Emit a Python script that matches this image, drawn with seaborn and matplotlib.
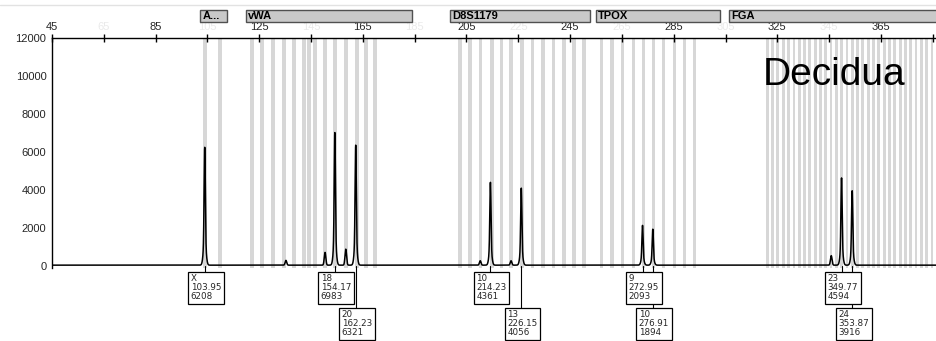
import numpy as np
import pandas as pd
import seaborn as sns
import matplotlib.pyplot as plt
from matplotlib.patches import Rectangle
from matplotlib.lines import Line2D
from matplotlib.transforms import blended_transform_factory

# locus panels above the trace (bp)
locus_names = ["A...", "vWA", "D8S1179", "TPOX", "FGA"]
locus_start = [102.1, 119.9, 198.7, 255.0, 306.3]
locus_end = [112.6, 184.0, 252.7, 302.9, 400.0]

# allele bins (grey stripes, bp)
bins_amel = [104.1, 109.9]
bins_vwa = [122.2, 126.1, 130.3, 134.6, 138.4, 142.3, 144.2, 146.5, 150.4,
            154.3, 158.5, 162.8, 166.2, 169.7]
bins_d8 = [202.5, 206.4, 210.5, 214.8, 218.6, 222.2, 226.4, 230.6, 234.5,
           238.6, 242.7, 246.5, 250.4]
bins_tpox = [257.2, 261.1, 265.3, 269.4, 273.3, 277.2, 281.0, 285.3, 289.1, 292.9]
bins_fga = [321.1, 323.2, 325.2, 327.3, 329.3, 331.4, 333.4, 335.5, 337.5,
            339.6, 341.6, 343.7, 345.7, 347.8, 349.8, 351.9, 353.9, 356.0,
            358.0, 360.1, 362.1, 364.2, 366.2, 368.3, 370.3, 372.4, 374.4,
            376.5, 378.5, 380.6, 382.6, 384.7, 386.7]

# called peaks
allele_labels = ["X", "18", "20", "10", "13", "9", "10", "23", "24"]
allele_sizes = [103.95, 154.17, 162.23, 214.23, 226.15, 272.95, 276.91, 349.77, 353.87]
allele_heights = [6208, 6983, 6321, 4361, 4056, 2093, 1894, 4594, 3916]

# small uncalled peaks (stutter etc.)
minor_sizes = [135.3, 150.4, 158.4, 210.3, 222.2, 345.8]
minor_heights = [250, 670, 840, 230, 230, 500]

sns.set_style("white")
plt.rcParams['font.family'] = ['Liberation Sans', 'DejaVu Sans']

fig = plt.figure(figsize=(9.37, 3.41), dpi=100)
ax = fig.add_axes([52 / 937, 1 - 268 / 341, 1 - 52 / 937, 230 / 341])
xmax = 45 + (937 - 52) / 2.5906
ax.set_xlim(45, xmax)
ax.set_ylim(-105, 12000)

# grey bin stripes
for b in bins_amel + bins_vwa + bins_d8 + bins_tpox:
    ax.axvspan(b - 0.65, b + 0.65, color='#d7d7d7', lw=0, zorder=0)
for b in bins_fga:
    ax.axvspan(b - 0.55, b + 0.55, color='#d7d7d7', lw=0, zorder=0)

# electropherogram trace
xs = np.arange(45, xmax, 0.02)
ys = np.full_like(xs, 45.0)
for p, h in zip(allele_sizes, allele_heights):
    ys += 0.78 * h * np.exp(-0.5 * ((xs - p) / 0.22) ** 2)
    ys += 0.22 * h * np.exp(-0.5 * ((xs - p) / 0.5) ** 2)
for p, h in zip(minor_sizes, minor_heights):
    ys += h * np.exp(-0.5 * ((xs - p) / 0.3) ** 2)
trace = pd.DataFrame({'size': xs, 'rfu': ys})
sns.lineplot(data=trace, x='size', y='rfu', ax=ax, color='black', lw=1.1,
             estimator=None, zorder=3)
ax.set_xlabel('')
ax.set_ylabel('')

# axes style
ax.xaxis.tick_top()
for s in ['bottom', 'right']:
    ax.spines[s].set_visible(False)
for s in ['top', 'left']:
    ax.spines[s].set_color('black')
    ax.spines[s].set_linewidth(1.0)
ax.set_xticks(np.arange(45, 386, 40))
minor_x = np.arange(65, 386, 40)
ax.set_xticks(minor_x, labels=[str(v) if v < 380 else '' for v in minor_x], minor=True)
ax.set_yticks(np.arange(0, 12001, 2000))
ax.set_yticks(np.arange(1000, 12000, 2000), minor=True)
ax.tick_params(axis='both', which='both', direction='inout', length=6, width=1,
               color='black', labelsize=8, pad=1)
ax.tick_params(axis='x', which='minor', labelcolor='#eaeaea', labeltop=True)
ax.tick_params(axis='y', which='minor', labelleft=False)

# locus panels
tr = blended_transform_factory(ax.transData, ax.transAxes)
for name, a, b in zip(locus_names, locus_start, locus_end):
    ax.add_patch(Rectangle((a, 1.0696), b - a, 0.052, transform=tr, clip_on=False,
                           facecolor='#c9c9c9', edgecolor='#505050', lw=1))
    ax.text(a + 0.9, 1.0956, name, transform=tr, ha='left', va='center',
            fontsize=8, fontweight='bold', color='black', clip_on=False)

# allele call boxes
prev = -100
for lab, p, h in zip(allele_labels, allele_sizes, allele_heights):
    row = 1 if p - prev < 15 else 0
    prev = p
    box_top = -316 if row == 0 else -2210
    text_top = -447 if row == 0 else -2341
    ax.plot([p, p], [0, box_top], color='black', lw=0.8, clip_on=False, zorder=4)
    ax.text(p - 5.4, text_top, f"{lab}\n{p:.2f}\n{h}", ha='left', va='top',
            fontsize=6.3, family='DejaVu Sans', linespacing=1.0, clip_on=False,
            zorder=6 - row,
            bbox=dict(boxstyle='square,pad=0.3', fc='white', ec='black', lw=0.9))

ax.text(319.5, 9526, 'Decidua', fontsize=28, va='baseline', ha='left',
        family=['Liberation Sans', 'DejaVu Sans'], color='black', zorder=5)

fig.add_artist(Line2D([0, 1], [1 - 5 / 341, 1 - 5 / 341], color='#e2e2e2', lw=1))

fig.savefig('out.png', dpi=100, facecolor='white')
